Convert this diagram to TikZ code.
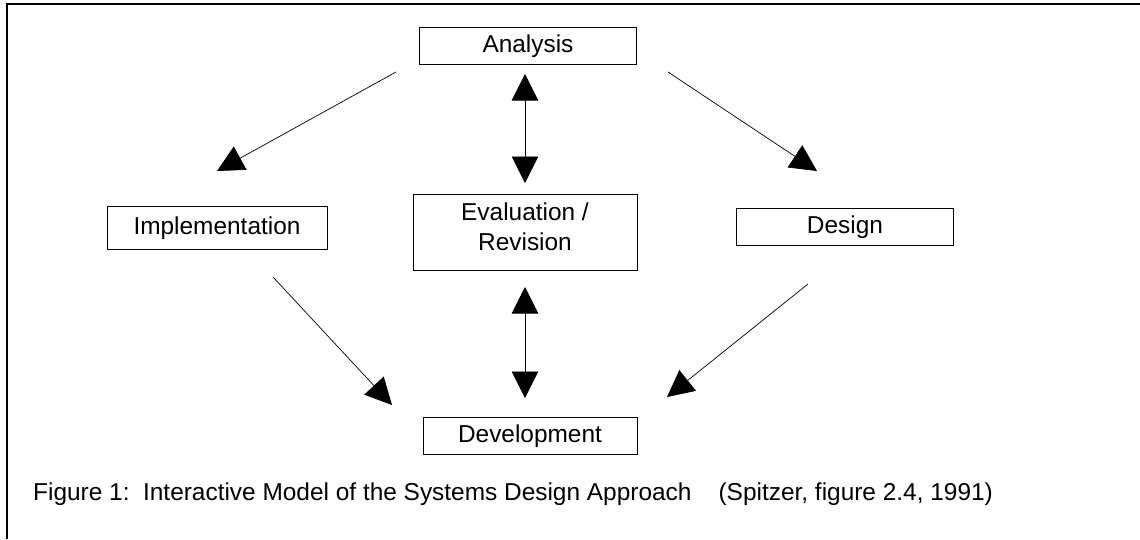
\documentclass[tikz,border=0pt]{standalone}
\usepackage{fontspec}
\setmainfont{Liberation Sans}
\usetikzlibrary{arrows.meta}

\begin{document}
\begin{tikzpicture}[x=0.02cm,y=-0.02cm,>={Triangle[length=0.53cm,width=0.53cm]},
  stage node/.style={draw,thin,font=\fontsize{13.9}{17}\selectfont,inner sep=0pt,minimum height=0.75cm,minimum width=4.34cm},
  flow/.style={->,thin}]

  \useasboundingbox (0,0) rectangle (1140,539);
  % frame
  \draw[line width=0.9pt] (7,539) -- (7,4) -- (1140,4);

  \node[stage node] (ana) at (528,46) {Analysis};
  \node[stage node,minimum width=4.4cm,minimum height=0.86cm] (imp) at (217,228) {Implementation};
  \node[stage node,minimum width=4.48cm,minimum height=1.52cm,align=center] (eval) at (525,232) {Evaluation /\\Revision\rule[-6pt]{0pt}{6pt}};
  \node[stage node] (des) at (845,227) {Design};
  \node[stage node,minimum width=4.28cm] (dev) at (530,436) {Development};

  \node[anchor=west,font=\fontsize{13.9}{17}\selectfont] (cap) at (27,494)
    {Figure 1:\ \ Interactive Model of the Systems Design Approach\ \ \ \ (Spitzer, figure 2.4, 1991)};

  % arrow ends
  \coordinate (aiS) at (396,72);  \coordinate (aiE) at (217,171);
  \coordinate (adS) at (668,72);  \coordinate (adE) at (817,171);
  \coordinate (aeS) at (525,74);  \coordinate (aeE) at (525,183);
  \coordinate (edS) at (525,287); \coordinate (edE) at (525,398);
  \coordinate (idS) at (273,277); \coordinate (idE) at (392,405);
  \coordinate (ddS) at (808,284); \coordinate (ddE) at (667,397);

  \draw[flow] (aiS) -- (aiE);
  \draw[flow] (adS) -- (adE);
  \draw[flow,<->] (aeS) -- (aeE);
  \draw[flow,<->] (edS) -- (edE);
  \draw[flow] (idS) -- (idE);
  \draw[flow] (ddS) -- (ddE);
\end{tikzpicture}
\end{document}
